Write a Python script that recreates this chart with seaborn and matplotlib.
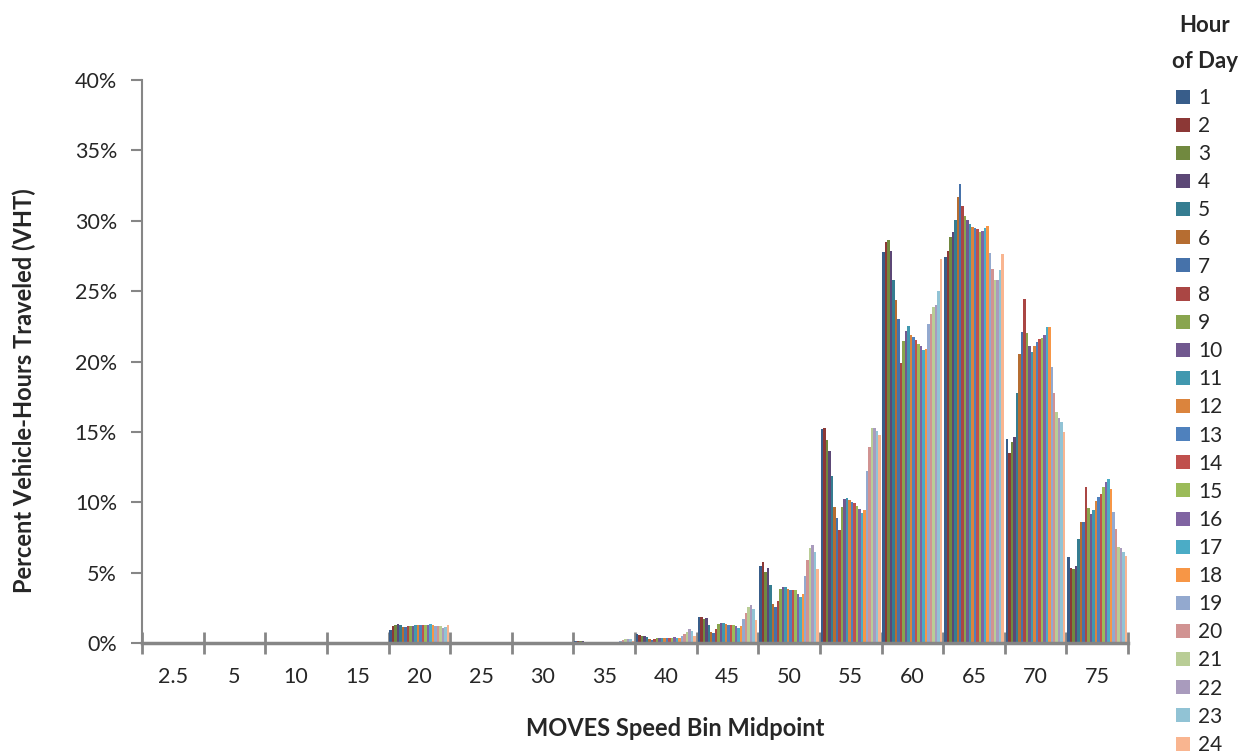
import pandas as pd
import seaborn as sns
import matplotlib.pyplot as plt
from matplotlib.ticker import FuncFormatter, MultipleLocator, FixedLocator

# speed bins (x categories) and hour of day (hue)
speed_bins = ["2.5", "5", "10", "15", "20", "25", "30", "35",
              "40", "45", "50", "55", "60", "65", "70", "75"]
hours = [str(h) for h in range(1, 25)]

# percent VHT, hour 1..24 for each speed bin
vht_2_5 = [0, 0, 0, 0, 0, 0, 0, 0, 0, 0, 0, 0, 0, 0, 0, 0, 0, 0, 0, 0, 0, 0, 0, 0]
vht_5 = [0, 0, 0, 0, 0, 0, 0, 0, 0, 0, 0, 0, 0, 0, 0, 0, 0, 0, 0, 0, 0, 0, 0, 0]
vht_10 = [0, 0, 0, 0, 0, 0, 0, 0, 0, 0, 0, 0, 0, 0, 0, 0, 0, 0, 0, 0, 0, 0, 0, 0]
vht_15 = [0, 0, 0, 0, 0, 0, 0, 0, 0, 0, 0, 0, 0, 0, 0, 0, 0, 0, 0, 0, 0, 0, 0, 0]
vht_20 = [0.92, 1.2, 1.25, 1.35, 1.3, 1.15, 1.15, 1.2, 1.2, 1.22, 1.25, 1.28,
          1.28, 1.25, 1.25, 1.3, 1.32, 1.3, 1.2, 1.2, 1.18, 1.1, 1.15, 1.3]
vht_25 = [0.02, 0.01, 0.01, 0.01, 0.02, 0.01, 0.02, 0.03, 0.03, 0.04, 0.05, 0.05,
          0.04, 0.05, 0.05, 0.04, 0.04, 0.03, 0.03, 0.03, 0.02, 0.02, 0.02, 0.03]
vht_30 = [0.04, 0.03, 0.03, 0.03, 0.03, 0.02, 0.02, 0.04, 0.05, 0.06, 0.07, 0.07,
          0.06, 0.06, 0.06, 0.05, 0.05, 0.05, 0.05, 0.06, 0.06, 0.05, 0.05, 0.06]
vht_35 = [0.15, 0.17, 0.12, 0.13, 0.08, 0.03, 0.03, 0.05, 0.08, 0.1, 0.1, 0.1,
          0.1, 0.1, 0.08, 0.08, 0.1, 0.1, 0.15, 0.2, 0.25, 0.3, 0.25, 0.15]
vht_40 = [0.64, 0.6, 0.5, 0.5, 0.43, 0.25, 0.2, 0.25, 0.33, 0.36, 0.38, 0.38,
          0.36, 0.36, 0.38, 0.4, 0.36, 0.39, 0.5, 0.64, 0.8, 1.0, 0.85, 0.5]
vht_45 = [1.83, 1.83, 1.7, 1.77, 1.28, 0.78, 0.71, 1.0, 1.35, 1.42, 1.42, 1.35,
          1.28, 1.3, 1.28, 1.2, 1.1, 1.2, 1.7, 2.13, 2.58, 2.7, 2.39, 1.63]
vht_50 = [5.47, 5.75, 5.04, 5.33, 4.1, 2.77, 2.56, 2.96, 3.81, 3.98, 3.98, 3.86,
          3.79, 3.79, 3.76, 3.48, 3.29, 3.5, 4.76, 5.9, 6.75, 6.96, 6.44, 5.26]
vht_55 = [15.2, 15.25, 14.4, 13.65, 11.84, 9.68, 8.86, 8.03, 9.68, 10.23, 10.27, 10.16,
          10.04, 9.93, 9.73, 9.5, 9.21, 9.45, 12.24, 13.95, 15.25, 15.25, 15.08, 14.78]
vht_60 = [27.76, 28.47, 28.6, 27.85, 25.8, 24.37, 23.0, 19.87, 21.46, 22.17, 22.55, 21.88,
          21.71, 21.5, 21.27, 21.1, 20.84, 20.9, 22.66, 23.37, 23.9, 24.0, 25.0, 27.26]
vht_65 = [27.4, 27.85, 28.87, 29.22, 30.05, 31.71, 32.61, 31.05, 30.36, 30.05, 29.77, 29.53,
          29.46, 29.41, 29.2, 29.3, 29.5, 29.65, 27.73, 26.55, 25.79, 25.79, 26.5, 27.64]
vht_70 = [14.47, 13.52, 14.3, 14.66, 17.74, 20.53, 22.07, 24.44, 22.0, 21.12, 20.65, 21.12,
          21.4, 21.58, 21.65, 21.86, 22.45, 22.45, 19.59, 17.74, 16.43, 16.0, 15.72, 15.01]
vht_75 = [6.09, 5.35, 5.23, 5.49, 7.39, 8.57, 8.57, 11.06, 9.57, 9.17, 9.45, 10.09,
          10.4, 10.56, 11.1, 11.44, 11.63, 10.94, 9.33, 8.1, 6.8, 6.73, 6.44, 6.18]

all_bins = [vht_2_5, vht_5, vht_10, vht_15, vht_20, vht_25, vht_30, vht_35,
            vht_40, vht_45, vht_50, vht_55, vht_60, vht_65, vht_70, vht_75]

hour_colors = ["#385D8A", "#8C3836", "#71893F", "#5C4776", "#357D91", "#B66D31",
               "#4672AA", "#AA4644", "#89A54E", "#71588F", "#4198AF", "#DB843D",
               "#4F81BD", "#C0504D", "#9BBB59", "#8064A2", "#4BACC6", "#F79646",
               "#93A9CF", "#D19392", "#B9CD96", "#A99BBD", "#91C3D5", "#F9B590"]

# long-form table for seaborn
rows = []
for b, vals in zip(speed_bins, all_bins):
    for h, v in zip(hours, vals):
        rows.append({"bin": b, "hour": h, "pct": v})
df = pd.DataFrame(rows)

sns.set_style("white")
plt.rcParams["font.family"] = ["Lato", "DejaVu Sans"]

fig = plt.figure(figsize=(12.52, 7.56), dpi=100)
ax = fig.add_axes([142 / 1252, 113 / 756, 986 / 1252, 563 / 756])

sns.barplot(data=df, x="bin", y="pct", hue="hour", order=speed_bins,
            hue_order=hours, palette=hour_colors, saturation=1,
            width=0.97, linewidth=0, errorbar=None, ax=ax)

ax.set_ylim(0, 40)
ax.set_xlim(-0.5, len(speed_bins) - 0.5)
ax.yaxis.set_major_locator(MultipleLocator(5))
ax.yaxis.set_major_formatter(FuncFormatter(lambda v, _: f"{v:.0f}%"))

# category boundary ticks crossing the axis
ax.xaxis.set_minor_locator(FixedLocator([i - 0.5 for i in range(len(speed_bins) + 1)]))
ax.tick_params(axis="x", which="major", length=0, pad=17, labelsize=15.5)
ax.tick_params(axis="x", which="minor", bottom=True, length=16, width=2,
               direction="inout", color="#868686")
ax.tick_params(axis="y", which="major", length=8, width=1.5, direction="out",
               color="#868686", labelsize=15.5, pad=10, left=True)

for s in ["top", "right"]:
    ax.spines[s].set_visible(False)
ax.spines["left"].set_color("#868686")
ax.spines["left"].set_linewidth(1.5)
ax.spines["bottom"].set_color("#868686")
ax.spines["bottom"].set_linewidth(2.5)

ax.set_xlabel("MOVES Speed Bin Midpoint", fontsize=17, fontweight="bold")
ax.set_ylabel("Percent Vehicle-Hours Traveled (VHT)", fontsize=17, fontweight="bold")
# the original places both titles a bit off-centre
ax.xaxis.set_label_coords((675 - 142) / 986, (643 - 728) / 563)
ax.xaxis.label.set_verticalalignment("center")
ax.yaxis.set_label_coords((24 - 142) / 986, (643 - 391) / 563)
ax.yaxis.label.set_verticalalignment("center")

handles, labels = ax.get_legend_handles_labels()
ax.legend(handles, labels, loc="upper left", bbox_to_anchor=(1176 / 1252, 1 - 88 / 756),
          bbox_transform=fig.transFigure, frameon=False, fontsize=15,
          handlelength=0.65, handleheight=0.65, handletextpad=0.4,
          labelspacing=0.39, borderpad=0, borderaxespad=0)
fig.text(1205 / 1252, 1 - 25 / 756, "Hour", ha="center", va="center",
         fontsize=16, fontweight="bold")
fig.text(1205 / 1252, 1 - 61 / 756, "of Day", ha="center", va="center",
         fontsize=16, fontweight="bold")

fig.savefig("out.png", dpi=100)
